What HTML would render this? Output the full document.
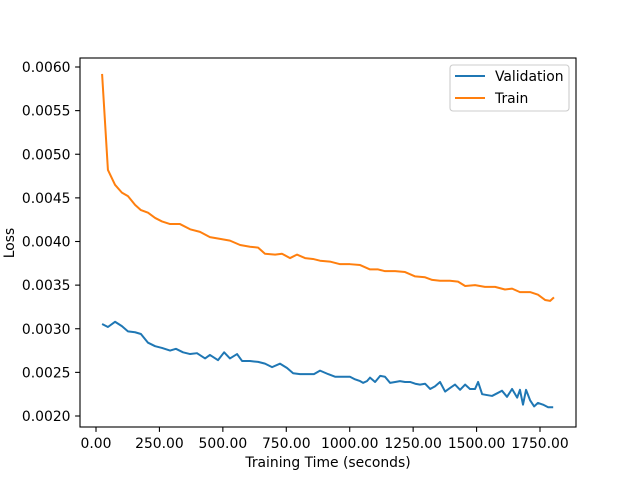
<!DOCTYPE html>
<html><head><meta charset="utf-8"><style>
body{margin:0;background:#fff}
svg{display:block;font-family:"DejaVu Sans","Liberation Sans",sans-serif}
</style></head><body>
<svg id="chart" width="640" height="480"></svg>
<script>
const trainTimes=[24,47,75,102,126,154,177,205,233,260,292,331,371,410,449,489,528,568,607,639,666,706,733,765,792,824,855,883,922,962,1001,1041,1080,1112,1139,1179,1218,1258,1297,1325,1356,1395,1427,1455,1494,1533,1573,1612,1640,1671,1711,1742,1770,1790,1805];
const trainLoss=[0.00592,0.00482,0.00465,0.00456,0.00452,0.00442,0.00436,0.00433,0.00427,0.00423,0.00420,0.00420,0.00414,0.00411,0.00405,0.00403,0.00401,0.00396,0.00394,0.00393,0.00386,0.00385,0.00386,0.00381,0.00385,0.00381,0.00380,0.00378,0.00377,0.00374,0.00374,0.00373,0.00368,0.00368,0.00366,0.00366,0.00365,0.00360,0.00359,0.00356,0.00355,0.00355,0.00354,0.00349,0.00350,0.00348,0.00348,0.00345,0.00346,0.00342,0.00342,0.00339,0.00333,0.00332,0.00336];
const valTimes=[24,47,75,102,126,154,177,205,233,260,292,315,343,371,398,430,449,481,505,528,556,576,607,639,666,694,725,753,777,804,832,859,883,915,942,970,1001,1021,1041,1053,1068,1080,1100,1120,1139,1159,1179,1198,1218,1238,1258,1277,1297,1317,1336,1356,1376,1395,1415,1435,1455,1474,1494,1506,1522,1541,1561,1581,1600,1620,1640,1660,1671,1683,1695,1711,1727,1742,1762,1782,1802];
const valLoss=[0.003054,0.00302,0.00308,0.00303,0.00297,0.00296,0.00294,0.00284,0.00280,0.00278,0.00275,0.00277,0.00273,0.00271,0.00272,0.00266,0.00270,0.00264,0.00273,0.00266,0.00271,0.00263,0.00263,0.00262,0.00260,0.00256,0.00260,0.00255,0.00249,0.00248,0.00248,0.00248,0.00252,0.00248,0.00245,0.00245,0.00245,0.00242,0.00240,0.00238,0.00240,0.00244,0.00239,0.00246,0.00245,0.00238,0.00239,0.00240,0.00239,0.00239,0.00237,0.00236,0.00237,0.00231,0.00234,0.00239,0.00228,0.00232,0.00236,0.00230,0.00236,0.00231,0.00231,0.00239,0.00225,0.00224,0.00223,0.00226,0.00229,0.00222,0.00231,0.00221,0.00230,0.00213,0.00230,0.00218,0.00211,0.00215,0.00213,0.00210,0.00210];
const xTicks=[0,250,500,750,1000,1250,1500,1750];
const yTicks=[0.0020,0.0025,0.0030,0.0035,0.0040,0.0045,0.0050,0.0055,0.0060];

const NS="http://www.w3.org/2000/svg";
const svg=document.getElementById('chart');
const L=80,R=576,T=58,B=427;
const FS=13.9;
const X=t=>96+t*(444/1750);
const Y=v=>416-(v-0.0020)*(349/0.004);
function el(tag,attrs,parent){const e=document.createElementNS(NS,tag);for(const k in attrs)e.setAttribute(k,attrs[k]);(parent||svg).appendChild(e);return e;}

xTicks.forEach(t=>{
  const g=el('g',{});
  
  
  el('line',{x1:X(t),x2:X(t),y1:B,y2:B+4.9,stroke:'#000','stroke-width':1.1},g);
  const tx=el('text',{x:X(t),y:B+21,'font-size':FS,'text-anchor':'middle'},g);
  tx.textContent=t.toFixed(2);
});
yTicks.forEach(v=>{
  const g=el('g',{});
  
  
  el('line',{x1:L-4.9,x2:L,y1:Y(v),y2:Y(v),stroke:'#000','stroke-width':1.1},g);
  const tx=el('text',{x:L-9.5,y:Y(v)+5,'font-size':FS,'text-anchor':'end'},g);
  tx.textContent=v.toFixed(4);
});
function line(ts,vs,color,name){
  const p=el('polyline',{points:ts.map((t,i)=>X(t)+','+Y(vs[i])).join(' '),fill:'none',stroke:color,'stroke-width':2,'stroke-linejoin':'round'});
  
  
}
line(valTimes,valLoss,'#1f77b4','validation-line');
line(trainTimes,trainLoss,'#ff7f0e','train-line');
const frame=el('rect',{x:L,y:T,width:R-L,height:B-T,fill:'none',stroke:'#000','stroke-width':1.1});


const xl=el('text',{x:(L+R)/2,y:467,'font-size':FS,'text-anchor':'middle'});


xl.textContent='Training Time (seconds)';
const yl=el('text',{x:0,y:0,'font-size':FS,'text-anchor':'middle',transform:'translate(14,243) rotate(-90)'});


yl.textContent='Loss';
const lg=el('g',{});


el('rect',{x:450,y:65,width:119,height:46,rx:3,fill:'#fff',stroke:'#ccc','stroke-width':1.1},lg);
[['Validation','#1f77b4',76],['Train','#ff7f0e',98]].forEach(([n,c,y])=>{
  const g=el('g',{},lg);
  
  
  el('line',{x1:455,x2:485,y1:y,y2:y,stroke:c,'stroke-width':2},g);
  const t=el('text',{x:495,y:y+5,'font-size':FS},g);
  t.textContent=n;
});
</script>
</body></html>
